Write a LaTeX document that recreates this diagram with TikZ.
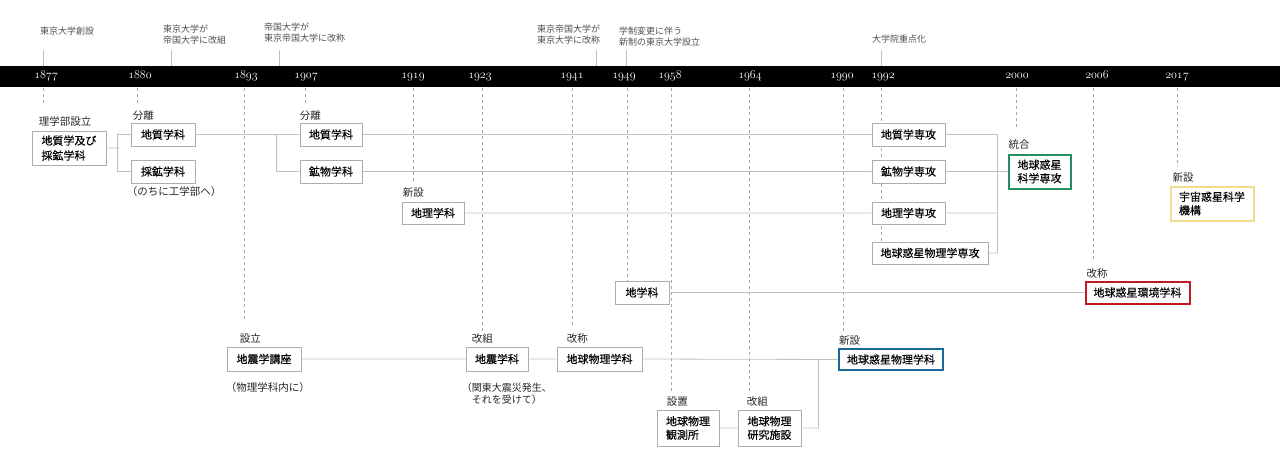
\documentclass[tikz,border=0pt]{standalone}
\usepackage{fontspec}
\newfontfamily\jp{Noto Sans CJK JP}
\newfontfamily\jpk{Noto Sans CJK JP}[FakeBold=0.3]
\usetikzlibrary{positioning}

\definecolor{rahmen}{HTML}{ADADAD}
\definecolor{leitung}{HTML}{C0C0C0}
\definecolor{strichgrau}{HTML}{A8A8A8}
\definecolor{notizgrau}{HTML}{505050}
\definecolor{gruen}{RGB}{36,142,92}
\definecolor{blau}{RGB}{27,104,152}
\definecolor{rot}{RGB}{190,26,32}
\definecolor{gelb}{RGB}{240,222,140}

% Mediävalziffern aus cmmi
\newcommand\mziffern[1]{{\usefont{OML}{cmm}{m}{it}#1}}

\begin{document}
\begin{tikzpicture}[x=1pt, y=-1pt,
        kasten/.style={draw=rahmen, line width=0.8pt, fill=white, inner sep=0pt,
            minimum height=23pt, align=left,
            font=\jpk\fontsize{11}{13.5}\selectfont},
        farbig/.style={kasten, draw=#1, line width=2pt},
        marke/.style={inner sep=0pt, text=black!85,
            font=\jp\fontsize{10.5}{12}\selectfont},
        notiz/.style={inner sep=0pt, anchor=north west, align=left, text=notizgrau,
            font=\jp\fontsize{9}{11}\selectfont},
        jahr/.style={inner sep=0pt, anchor=base, text=white,
            font=\fontsize{12}{12}\selectfont},
        leiter/.style={draw=leitung, line width=0.8pt},
        zeitstrich/.style={draw=strichgrau, line width=0.7pt, dash pattern=on 3pt off 3pt}
        ]
            \useasboundingbox (0,0) rectangle (1280,461);

            % Zeitstriche
            \foreach \x/\e in {43/106,137/103,244/322,305/103,413/184,482/331,572/327,
                    627/281,671/392,749/392,843/333,881/242,1016/129,1093/262,1177/167}
                \draw[zeitstrich] (\x,88) -- (\x,\e);

            % Zeitleiste
            \node[fill=black, inner sep=0pt, anchor=north west,
                minimum width=1280pt, minimum height=21pt] (leiste) at (0,66) {};
            \foreach \j/\x in {1877/46,1880/140,1893/246,1907/306,1919/413,1923/480,
                    1941/572,1949/624,1958/670,1964/750,1990/842,1992/883,
                    2000/1017,2006/1097,2017/1177}
                \node[jahr] (J\j) at (\x,78) {\mziffern{\j}};

            % Ereignisse oben
            \node[notiz] (N1) at (40,26.5)  {東京大学創設};
            \node[notiz] (N2) at (163,24.5) {東京大学が\\帝国大学に改組};
            \node[notiz] (N3) at (264,22.5) {帝国大学が\\東京帝国大学に改称};
            \node[notiz] (N4) at (537,24.5) {東京帝国大学が\\東京大学に改称};
            \node[notiz] (N5) at (619,26.5) {学制変更に伴う\\新制の東京大学設立};
            \node[notiz] (N6) at (872,34.5) {大学院重点化};
            \foreach \x in {43,171,279,596,626,881}
                \draw[leiter] (\x,50) -- (\x,50 |- leiste.north);

            % Kästen
            \node[kasten, minimum width=74pt, minimum height=34pt,
                font=\jpk\fontsize{11}{15}\selectfont] (GK) at (69,148) {地質学及び\\採鉱学科};
            \node[kasten, minimum width=64pt] (G1) at (163,134.5) {地質学科};
            \node[kasten, minimum width=64pt] (K1) at (163,171.5) {採鉱学科};
            \node[kasten, minimum width=62pt] (G2) at (331,134.5) {地質学科};
            \node[kasten, minimum width=62pt] (M2) at (331,171.5) {鉱物学科};
            \node[kasten, minimum width=62pt, minimum height=22pt] (E1) at (433,213) {地理学科};
            \node[kasten, minimum width=73pt] (GS) at (908.5,134.5) {地質学専攻};
            \node[kasten, minimum width=73pt] (MS) at (908.5,171.5) {鉱物学専攻};
            \node[kasten, minimum width=73pt, minimum height=22pt] (ES) at (908.5,213) {地理学専攻};
            \node[kasten, minimum width=116pt, minimum height=22pt] (PS) at (930,253) {地球惑星物理学専攻};
            \node[farbig=gruen, minimum width=62pt, minimum height=34pt,
                align=center] (EPS) at (1039.5,171.5) {地球惑星\\科学専攻};
            \node[farbig=gelb, minimum width=83pt, minimum height=34pt] (UK) at (1212,203.5) {宇宙惑星科学\\機構};
            \node[kasten, minimum width=54pt] (CG) at (642,292.5) {地学科};
            \node[farbig=rot, minimum width=104pt, minimum height=22pt] (EE) at (1137.5,292.5) {地球惑星環境学科};
            \node[kasten, minimum width=74pt, minimum height=24pt] (JK) at (264,359) {地震学講座};
            \node[kasten, minimum width=62pt, minimum height=24pt] (JG) at (497,359) {地震学科};
            \node[kasten, minimum width=85pt, minimum height=24pt] (BG) at (599.5,359) {地球物理学科};
            \node[farbig=blau, minimum width=104pt, minimum height=21pt] (EP) at (891,359.5) {地球惑星物理学科};
            \node[kasten, minimum width=62pt, minimum height=36pt] (BK) at (688,428) {地球物理\\観測所};
            \node[kasten, minimum width=63pt, minimum height=36pt] (BF) at (769.5,428) {地球物理\\研究施設};

            % Linien
            \draw[leiter] (GK.east) -- ++(13,0)
                          (G1.west) -- ++(-13,0) |- (K1.west)
                          (G1.east) -- (G2.west)
                          (G2.west) ++(-23,0) |- (M2.west)
                          (G2.east) -- (GS.west)
                          (M2.east) -- (MS.west)
                          (E1.east) -- (ES.west)
                          (GS.east) -- ++(52,0) |- (PS.east)
                          (ES.east) -- ++(52,0)
                          (MS.east) -- (EPS.west)
                          (CG.east) -- (EE.west)
                          (JK.east) -- (JG.west)
                          (JG.east) -- (BG.west)
                          (BG.east) -- (EP.west)
                          (BK.east) -- (BF.west)
                          (BF.east) -- ++(17,0) |- (EP.west);

            % Beschriftung
            \node[marke, above right=4pt and 7pt of GK.north west] (L1) {理学部設立};
            \node[marke, above right=2pt and 2pt of G1.north west] (L2) {分離};
            \node[marke, below right=3pt and -4pt of K1.south west] (L3) {（のちに工学部へ）};
            \node[marke, above right=2pt and 0pt of G2.north west] (L4) {分離};
            \node[marke, above right=4pt and 1pt of E1.north west] (L5) {新設};
            \node[marke, above right=4pt and 1pt of EPS.north west] (L6) {統合};
            \node[marke, above right=3pt and 3pt of UK.north west] (L7) {新設};
            \node[marke, above right=2pt and 2pt of EE.north west] (L8) {改称};
            \node[marke, above right=3pt and 13pt of JK.north west] (L9) {設立};
            \node[marke, below right=11pt and -1pt of JK.south west] (L10) {（物理学科内に）};
            \node[marke, above right=3pt and 6pt of JG.north west] (L11) {改組};
            \node[marke, below right=11pt and -4pt of JG.south west, align=center,
                font=\jp\fontsize{10}{12}\selectfont] (L12) {（関東大震災発生、\\それを受けて）};
            \node[marke, above right=3pt and 10pt of BG.north west] (L13) {改称};
            \node[marke, above right=2pt and 1pt of EP.north west] (L14) {新設};
            \node[marke, above right=3pt and 10pt of BK.north west] (L15) {設置};
            \node[marke, above right=3pt and 9pt of BF.north west] (L16) {改組};
        \end{tikzpicture}
\end{document}
